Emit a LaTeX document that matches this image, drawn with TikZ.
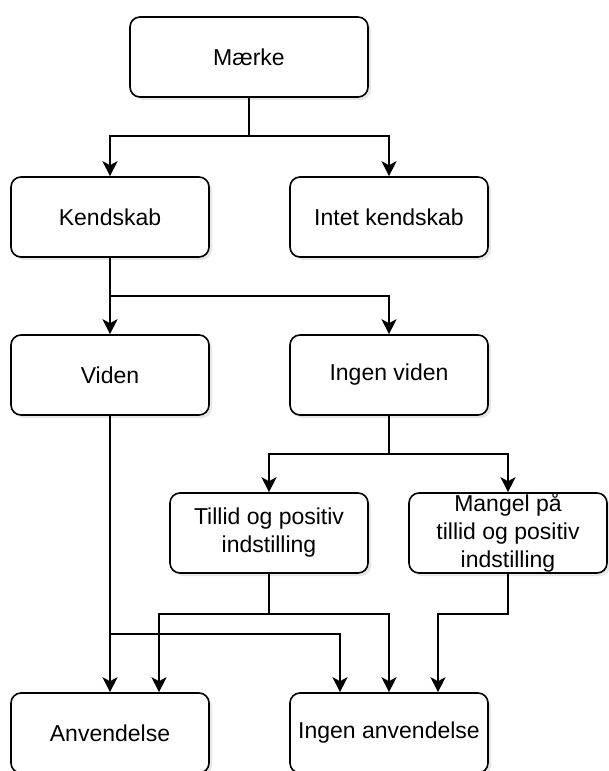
\documentclass[tikz,border=0pt]{standalone}
\usepackage{fontspec}
\setmainfont{Liberation Sans}
\usetikzlibrary{arrows.meta,shadows}
\tikzstyle{box}=[draw,line width=1.6pt,rounded corners=10pt,fill=white,minimum width=198pt,minimum height=80pt,inner sep=0pt,align=center,font=\fontsize{23}{28}\selectfont,drop shadow={shadow xshift=3pt,shadow yshift=-3pt,opacity=0.2}]
\tikzstyle{edge}=[draw,line width=1.6pt,-{Stealth[length=15pt,width=15pt,inset=4pt]}]
\begin{document}
\begin{tikzpicture}[x=1pt,y=-1pt]
    \useasboundingbox (0,0) rectangle (608,771);
    % First the boxes
    \node[box,minimum width=238pt] (Maerke) at (249,57) {Mærke};
    \foreach \pos/\name/\txt in {{(110,217)/Kendskab/Kendskab}, {(389,217)/IntetKendskab/Intet kendskab},
        {(110,375)/Viden/Viden}, {(389,375)/IngenViden/Ingen viden},
        {(269,533)/Tillid/Tillid og positiv\\indstilling}, {(508,533)/Mangel/Mangel på\\tillid og positiv\\indstilling},
        {(110,733)/Anvendelse/Anvendelse}, {(389,733)/IngenAnvendelse/Ingen anvendelse}}
        \node[box] (\name) at \pos {\txt};
    % Connect boxes with elbow arrows
    \foreach \source/\drop/\dx/\dest in {Maerke/38/0/Kendskab, Maerke/38/0/IntetKendskab,
        Kendskab/38/0/Viden, Kendskab/38/0/IngenViden, IngenViden/38/0/Tillid, IngenViden/38/0/Mangel,
        Viden/218/0/Anvendelse, Viden/218/-49/IngenAnvendelse, Tillid/40/49/Anvendelse,
        Tillid/40/0/IngenAnvendelse, Mangel/40/49/IngenAnvendelse}
        \path[edge] (\source.south) -- ++(0,\drop) -| ([xshift=\dx pt]\dest.north);
\end{tikzpicture}
\end{document}
